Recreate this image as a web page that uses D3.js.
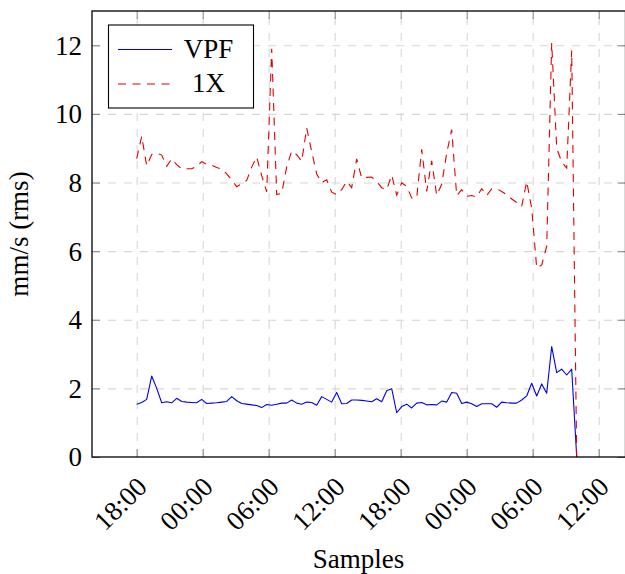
<!DOCTYPE html>
<html><head><meta charset="utf-8">
<script src="https://cdn.jsdelivr.net/npm/d3@7/dist/d3.min.js"></script>
<style>
html,body{margin:0;padding:0;background:#fff;}
svg{display:block;}
svg text{font-family:"Liberation Serif","Times New Roman","DejaVu Serif",serif !important;}
</style></head><body>
<svg id="chart" width="625" height="574"></svg>
<script>
// ---- data ----
const vpf = [1.54,1.59,1.68,2.36,2.00,1.58,1.61,1.58,1.71,1.62,
1.60,1.59,1.58,1.68,1.56,1.57,1.58,1.60,1.62,1.76,
1.64,1.56,1.54,1.52,1.50,1.44,1.53,1.51,1.54,1.57,
1.57,1.66,1.57,1.54,1.60,1.59,1.51,1.76,1.68,1.60,
1.88,1.55,1.56,1.66,1.66,1.65,1.63,1.61,1.70,1.61,
1.93,1.99,1.29,1.47,1.54,1.43,1.57,1.59,1.52,1.53,
1.52,1.63,1.60,1.88,1.86,1.56,1.60,1.55,1.47,1.55,
1.55,1.55,1.45,1.60,1.58,1.57,1.57,1.66,1.78,2.15,
1.78,2.13,1.86,3.22,2.46,2.56,2.39,2.56,0];
const oneX = [8.70,9.35,8.49,8.82,8.85,8.80,8.47,8.69,8.52,8.40,
8.40,8.40,8.47,8.61,8.53,8.50,8.44,8.39,8.25,8.08,
7.88,7.97,8.06,8.45,8.75,8.20,7.73,11.90,7.65,7.69,
8.45,8.92,8.81,8.62,9.59,8.90,8.25,8.00,8.08,7.72,
7.65,7.79,8.03,7.85,8.69,8.13,8.15,8.16,8.03,7.85,
7.79,8.22,7.63,7.99,7.89,7.55,7.55,8.97,7.74,8.63,
7.63,7.95,8.86,9.54,7.62,7.79,7.60,7.62,7.58,7.82,
7.62,7.82,7.82,7.74,7.65,7.52,7.42,7.30,8.03,7.25,
5.51,5.60,6.14,12.07,9.00,8.60,8.42,11.85,0];
const samples = vpf.map((_, i) => i);               // sample index
const xTickPos = [0, 13.2, 26.4, 39.6, 52.8, 66, 79.2, 92.4];
const xTickLabels = ["18:00","00:00","06:00","12:00","18:00","00:00","06:00","12:00"];
const yTicks = [0, 2, 4, 6, 8, 10, 12];
const seriesNames = ["VPF", "1X"];

// ---- layout ----
const L = 92, R = 625.5, T = 11, B = 457;
const FS = 27;
const svg = d3.select("#chart");
const x = d3.scaleLinear().domain([-8.94, 97.76]).range([L, R]);
const y = d3.scaleLinear().domain([0, 13]).range([B, T]);

// grid
const gridX = svg.append("g").attr("transform", `translate(0,${B})`)
  .call(d3.axisBottom(x).tickValues(xTickPos).tickSize(-(B - T)).tickFormat(""));
const gridY = svg.append("g").attr("transform", `translate(${L},0)`)
  .call(d3.axisLeft(y).tickValues(yTicks.filter(v => v > 0)).tickSize(-(R - L)).tickFormat(""));
[gridX, gridY].forEach(g => {
  g.select(".domain").remove();
  g.selectAll("line").attr("stroke", "#d6d6d6").attr("stroke-width", 1.1).attr("stroke-dasharray", "8,8");
});

// ticks (inward, both sides)
function tickStyle(g) {
  g.select(".domain").remove();
  g.selectAll("line").attr("stroke", "#8c8c8c").attr("stroke-width", 1.1);
}
const axB = svg.append("g").attr("transform", `translate(0,${B})`)
  .call(d3.axisBottom(x).tickValues(xTickPos).tickSize(-8).tickFormat((d, i) => xTickLabels[i]));
tickStyle(axB);
axB.attr("font-family", null).attr("font-size", null);
axB.selectAll("text")
  .attr("x", 0).attr("y", 0).attr("dy", null)
  .attr("text-anchor", "end").attr("dominant-baseline", "middle")
  .attr("transform", "translate(7,27) rotate(-45)")
  .style("font-size", FS + "px").attr("fill", "#000");

const axT = svg.append("g").attr("transform", `translate(0,${T})`)
  .call(d3.axisTop(x).tickValues(xTickPos).tickSize(-8).tickFormat(""));
tickStyle(axT);

const axL = svg.append("g").attr("transform", `translate(${L},0)`)
  .call(d3.axisLeft(y).tickValues(yTicks).tickSize(-8).tickPadding(10).tickFormat(d3.format("d")));
tickStyle(axL);
axL.attr("font-family", null).attr("font-size", null);
axL.selectAll("text").style("font-size", FS + "px").attr("fill", "#000").attr("dy", "0.33em");

const axR = svg.append("g").attr("transform", `translate(${R},0)`)
  .call(d3.axisRight(y).tickValues(yTicks).tickSize(-8).tickFormat(""));
tickStyle(axR);

// clip
svg.append("clipPath").attr("id", "clip").append("rect")
  .attr("x", L).attr("y", T).attr("width", R - L).attr("height", B - T);

const line = d3.line().x((d, i) => x(samples[i])).y(d => y(d));
const plot = svg.append("g").attr("clip-path", "url(#clip)");
plot.append("path").datum(vpf).attr("d", line)
  .attr("fill", "none").attr("stroke", "#0000ee").attr("stroke-width", 1.1)
  .attr("stroke-linejoin", "round");
plot.append("path").datum(oneX).attr("d", line)
  .attr("fill", "none").attr("stroke", "#e00000").attr("stroke-width", 1.1)
  .attr("stroke-dasharray", "8,6.5");

// frame
svg.append("rect").attr("x", L).attr("y", T).attr("width", R - L).attr("height", B - T)
  .attr("fill", "none").attr("stroke", "#000").attr("stroke-width", 1.3);

// legend
const lg = svg.append("g");
lg.append("rect").attr("x", 108.5).attr("y", 25).attr("width", 145).attr("height", 83)
  .attr("fill", "#fff").attr("stroke", "#000").attr("stroke-width", 1.1);
const legendY = [49.5, 84];
const legendStyle = [{c: "#0000ee", d: null}, {c: "#e00000", d: "8,6.5"}];
seriesNames.forEach((name, i) => {
  lg.append("line").attr("x1", 118).attr("x2", 172).attr("y1", legendY[i]).attr("y2", legendY[i])
    .attr("stroke", legendStyle[i].c).attr("stroke-width", 1.1)
    .attr("stroke-dasharray", legendStyle[i].d);
  lg.append("text").attr("x", 208.5).attr("y", legendY[i] + 8).attr("text-anchor", "middle")
    .style("font-size", FS + "px").text(name);
});

// axis titles
svg.append("text").attr("x", (L + 625) / 2).attr("y", 568).attr("text-anchor", "middle")
  .style("font-size", FS + "px").text("Samples");
svg.append("text").attr("transform", `translate(28,${(T + B) / 2}) rotate(-90)`)
  .attr("text-anchor", "middle").style("font-size", FS + "px").text("mm/s (rms)");
</script>
</body></html>
